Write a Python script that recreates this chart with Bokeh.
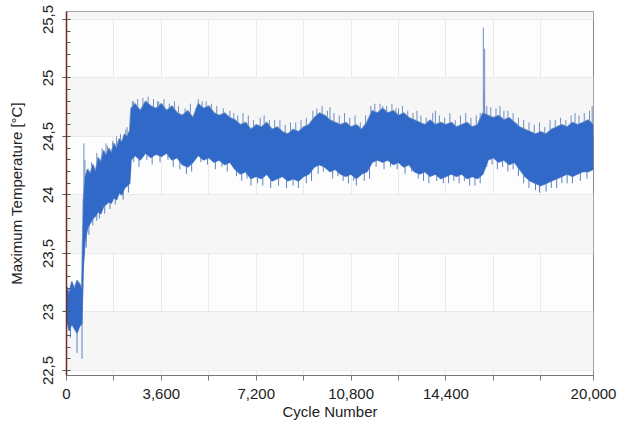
import numpy as np
from bokeh.plotting import figure
from bokeh.models import FixedTicker, Range1d
from bokeh.embed import file_html
from bokeh.resources import INLINE

cycles = [0, 100, 200, 300, 400, 500, 580, 640, 700, 800, 900, 1000, 1100, 1200, 1300,
          1400, 1500, 1600, 1700, 1800, 1900, 2000, 2100, 2200, 2300, 2400, 2450, 2600,
          2800, 3000, 3200, 3400, 3600, 3800, 4000, 4200, 4400, 4600, 4800, 5000, 5200,
          5400, 5600, 5800, 6000, 6200, 6400, 6600, 6800, 7000, 7200, 7400, 7600, 7800,
          8000, 8200, 8400, 8600, 8800, 9000, 9200, 9400, 9600, 9800, 10000, 10200, 10400,
          10600, 10800, 11000, 11200, 11400, 11600, 11800, 12000, 12200, 12400, 12600,
          12800, 13000, 13200, 13400, 13600, 13800, 14000, 14200, 14400, 14600, 14800,
          15000, 15200, 15400, 15600, 15800, 16000, 16200, 16400, 16600, 16800, 17000,
          17200, 17400, 17600, 17800, 18000, 18200, 18400, 18600, 18800, 19000, 19200,
          19400, 19600, 19800, 20000]
upper = [23.22, 23.16, 23.26, 23.20, 23.27, 23.24, 23.20, 23.95, 24.15, 24.22, 24.18, 24.26,
         24.20, 24.32, 24.28, 24.38, 24.34, 24.40, 24.36, 24.44, 24.40, 24.48, 24.45, 24.52,
         24.50, 24.55, 24.74, 24.78, 24.72, 24.80, 24.76, 24.74, 24.78, 24.72, 24.76, 24.70,
         24.68, 24.72, 24.66, 24.78, 24.74, 24.76, 24.70, 24.68, 24.70, 24.66, 24.64, 24.60,
         24.62, 24.56, 24.60, 24.58, 24.62, 24.56, 24.58, 24.54, 24.52, 24.56, 24.54, 24.58,
         24.60, 24.66, 24.70, 24.68, 24.64, 24.62, 24.60, 24.62, 24.58, 24.60, 24.56, 24.62,
         24.72, 24.70, 24.74, 24.70, 24.72, 24.68, 24.70, 24.66, 24.64, 24.62, 24.60, 24.64,
         24.60, 24.62, 24.60, 24.62, 24.58, 24.60, 24.62, 24.58, 24.60, 24.70, 24.68, 24.66,
         24.68, 24.64, 24.66, 24.62, 24.58, 24.56, 24.54, 24.52, 24.54, 24.52, 24.56, 24.58,
         24.60, 24.58, 24.62, 24.60, 24.62, 24.64, 24.60]
lower = [22.95, 22.84, 22.90, 22.86, 22.82, 22.88, 22.90, 23.40, 23.60, 23.72, 23.76, 23.80,
         23.82, 23.86, 23.84, 23.90, 23.92, 23.94, 23.93, 23.98, 23.96, 24.02, 24.00, 24.06,
         24.08, 24.10, 24.30, 24.34, 24.30, 24.36, 24.32, 24.35, 24.33, 24.36, 24.30, 24.32,
         24.26, 24.24, 24.28, 24.34, 24.30, 24.32, 24.28, 24.30, 24.26, 24.28, 24.22, 24.18,
         24.20, 24.14, 24.16, 24.14, 24.18, 24.12, 24.14, 24.16, 24.12, 24.14, 24.12, 24.16,
         24.18, 24.24, 24.26, 24.24, 24.20, 24.22, 24.18, 24.16, 24.18, 24.14, 24.18, 24.20,
         24.28, 24.30, 24.28, 24.30, 24.26, 24.28, 24.24, 24.26, 24.20, 24.18, 24.20, 24.16,
         24.18, 24.14, 24.16, 24.18, 24.16, 24.18, 24.14, 24.16, 24.14, 24.18, 24.30, 24.32,
         24.28, 24.30, 24.26, 24.28, 24.22, 24.16, 24.12, 24.10, 24.08, 24.10, 24.12, 24.14,
         24.16, 24.18, 24.16, 24.18, 24.20, 24.20, 24.22]

# isolated excursions (spikes) above and below the band
spike_up_c = [660, 700, 950, 1150, 1350, 1500, 1550, 1750, 1900, 2050, 2250, 2300, 2420,
              2500, 2550, 2700, 2900, 3100, 3300, 3450, 3500, 3700, 3900, 4100, 4250, 4500,
              4700, 4900, 5000, 5150, 5300, 5500, 5700, 5950, 6200, 6350, 6500, 6700, 6900,
              7100, 7350, 7500, 7700, 7900, 8100, 8300, 8500, 8700, 8900, 9100, 9350, 9500,
              9700, 9900, 10000, 10150, 10350, 10550, 10750, 10950, 11150, 11350, 11550,
              11700, 11900, 12000, 12150, 12350, 12500, 12600, 12750, 12950, 13150, 13300,
              13450, 13650, 13900, 14000, 14150, 14350, 14550, 14750, 14950, 15150, 15350,
              15550, 15700, 15820, 15850, 15870, 15950, 16100, 16300, 16450, 16600, 16750,
              16950, 17150, 17350, 17550, 17750, 17950, 18150, 18350, 18550, 18750, 18950,
              19150, 19300, 19450, 19650, 19850, 19950]
spike_up_v = [24.44, 24.30, 24.28, 24.36, 24.40, 24.44, 24.42, 24.46, 24.50, 24.52, 24.56,
              24.58, 24.60, 24.80, 24.80, 24.82, 24.83, 24.84, 24.82, 24.80, 24.80, 24.82,
              24.78, 24.80, 24.76, 24.74, 24.78, 24.74, 24.82, 24.80, 24.80, 24.78, 24.76,
              24.74, 24.72, 24.70, 24.68, 24.70, 24.68, 24.64, 24.66, 24.68, 24.64, 24.64,
              24.64, 24.60, 24.62, 24.62, 24.64, 24.66, 24.72, 24.74, 24.76, 24.72, 24.75,
              24.70, 24.68, 24.70, 24.66, 24.68, 24.62, 24.68, 24.76, 24.78, 24.78, 24.76,
              24.76, 24.78, 24.74, 24.74, 24.76, 24.72, 24.70, 24.72, 24.68, 24.66, 24.70,
              24.72, 24.68, 24.66, 24.70, 24.64, 24.68, 24.70, 24.66, 24.68, 24.70, 25.43,
              24.90, 25.25, 24.76, 24.75, 24.74, 24.76, 24.72, 24.72, 24.70, 24.66, 24.64,
              24.62, 24.60, 24.62, 24.58, 24.64, 24.64, 24.66, 24.64, 24.68, 24.70, 24.68,
              24.70, 24.72, 24.76]
spike_dn_c = [150, 400, 590, 750, 850, 1000, 1150, 1250, 1450, 1650, 1850, 2150, 2350, 2550,
              2750, 3050, 3250, 3550, 3850, 4050, 4300, 4550, 4750, 5100, 5350, 5650, 5900,
              6100, 6450, 6650, 6850, 7000, 7250, 7450, 7750, 8050, 8350, 8600, 8800, 9100,
              9300, 9550, 9750, 10100, 10300, 10500, 10700, 10900, 11000, 11300, 11500, 11750,
              12050, 12300, 12550, 12850, 13100, 13350, 13550, 13750, 14050, 14300, 14500,
              14700, 14900, 15100, 15300, 15500, 15700, 15950, 16150, 16350, 16550, 16750,
              16950, 17150, 17350, 17550, 17800, 17950, 18200, 18400, 18600, 18800, 19000,
              19200, 19500, 19750]
spike_dn_v = [22.78, 22.65, 22.60, 23.55, 23.66, 23.74, 23.78, 23.80, 23.84, 23.88, 23.92,
              23.96, 24.02, 24.28, 24.24, 24.30, 24.26, 24.28, 24.30, 24.24, 24.22, 24.18,
              24.20, 24.28, 24.26, 24.22, 24.24, 24.20, 24.16, 24.12, 24.14, 24.08, 24.10,
              24.08, 24.06, 24.08, 24.06, 24.08, 24.06, 24.10, 24.12, 24.18, 24.20, 24.14,
              24.16, 24.12, 24.10, 24.12, 24.08, 24.12, 24.14, 24.24, 24.22, 24.24, 24.22,
              24.18, 24.20, 24.14, 24.12, 24.10, 24.12, 24.10, 24.10, 24.12, 24.10, 24.12,
              24.08, 24.08, 24.10, 24.24, 24.26, 24.22, 24.24, 24.20, 24.22, 24.16, 24.10,
              24.06, 24.04, 24.02, 24.03, 24.06, 24.06, 24.10, 24.10, 24.10, 24.12, 24.14]

x_ticks = [0, 1800, 3600, 5400, 7200, 9000, 10800, 12600, 14400, 16200, 18000, 20000]
x_tick_labels = ["0", "", "3,600", "", "7,200", "", "10,800", "", "14,400", "", "", "20,000"]
y_ticks = [22.5, 23.0, 23.5, 24.0, 24.5, 25.0, 25.5]
y_tick_labels = ["22,5", "23", "23,5", "24", "24,5", "25", "25,5"]
y_minor = [round(22.5 + 0.1 * i, 1) for i in range(31)]

FONT = "Liberation Sans"

p = figure(width=617, height=422, output_backend="svg", toolbar_location=None,
           x_range=Range1d(0, 20000), y_range=Range1d(22.457, 25.568),
           min_border_left=66, min_border_right=24, min_border_top=11, min_border_bottom=47,
           background_fill_color="#fdfdfd", border_fill_color="white")
p.outline_line_color = "#8a8a8a"
p.outline_line_width = 1

# grids
p.xgrid.ticker = FixedTicker(ticks=x_ticks)
p.ygrid.ticker = FixedTicker(ticks=y_ticks)
p.xgrid.grid_line_color = "#eaeaea"
p.ygrid.grid_line_color = "#eaeaea"
p.ygrid.band_fill_color = "#f6f6f6"
p.ygrid.band_fill_alpha = 1.0

# x axis
xa = p.xaxis[0]
xa.ticker = FixedTicker(ticks=x_ticks)
xa.major_label_overrides = {t: l for t, l in zip(x_ticks, x_tick_labels)}
xa.minor_tick_line_color = None
xa.major_tick_out = 5
xa.major_tick_in = 0
xa.axis_line_color = "#777777"
xa.major_tick_line_color = "#777777"
xa.major_label_text_font = FONT
xa.major_label_text_font_size = "15px"
xa.major_label_text_color = "#222222"
xa.major_label_standoff = 8
xa.axis_label = "Cycle Number"
xa.axis_label_text_font = FONT
xa.axis_label_text_font_size = "15px"
xa.axis_label_text_font_style = "normal"
xa.axis_label_text_color = "#222222"
xa.axis_label_standoff = 1

# y axis
ya = p.yaxis[0]
ya.ticker = FixedTicker(ticks=y_ticks, minor_ticks=y_minor)
ya.major_label_overrides = {t: l for t, l in zip(y_ticks, y_tick_labels)}
ya.major_label_orientation = "vertical"
ya.major_tick_out = 4
ya.major_tick_in = 0
ya.minor_tick_in = 4
ya.minor_tick_out = 0
ya.axis_line_color = "#6b2b2b"
ya.axis_line_width = 1.5
ya.major_tick_line_color = "#555555"
ya.minor_tick_line_color = "#555555"
ya.major_label_text_font = FONT
ya.major_label_text_font_size = "15px"
ya.major_label_text_color = "#222222"
ya.major_label_standoff = 9
ya.axis_label = "Maximum Temperature [°C]"
ya.axis_label_text_font = FONT
ya.axis_label_text_font_size = "15px"
ya.axis_label_text_font_style = "normal"
ya.axis_label_text_color = "#222222"
ya.axis_label_standoff = 16

# spikes (drawn from inside the band outward)
up_base = np.interp(spike_up_c, cycles, lower)
dn_base = np.interp(spike_dn_c, cycles, upper)
p.segment(x0=spike_up_c, y0=up_base, x1=spike_up_c, y1=spike_up_v,
          line_color="#6f8fc0", line_width=1.0)
p.segment(x0=spike_dn_c, y0=dn_base, x1=spike_dn_c, y1=spike_dn_v,
          line_color="#5b82c4", line_width=1.0)

# band edges and fill
p.line(cycles, upper, line_color="#7f9cc6", line_width=1.6)
p.line(cycles, lower, line_color="#4f7bc4", line_width=1.4)
p.varea(x=cycles, y1=lower, y2=upper, fill_color="#3169c9")

open("out.html", "w").write(file_html(p, INLINE))
